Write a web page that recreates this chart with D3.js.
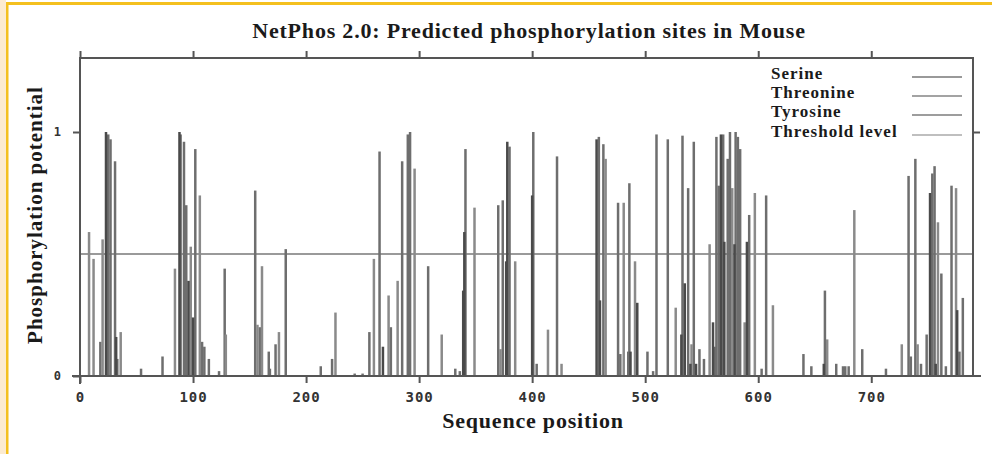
<!DOCTYPE html>
<html>
<head>
<meta charset="utf-8">
<script src="https://cdn.jsdelivr.net/npm/d3@7"></script>
<style>
  html, body { margin: 0; padding: 0; background: #fff; }
  svg { display: block; }
</style>
</head>
<body>
<svg id="chart" width="992" height="454"></svg>
<script>
// NetPhos 2.0 – sites prédits (position, potentiel)
const serine = [
  [18, 0.14], [25, 0.99], [27, 0.97], [31, 0.88], [33, 0.07], [54, 0.03], [73, 0.08],
  [89, 0.99], [92, 0.96], [94, 0.70], [102, 0.93], [108, 0.14], [110, 0.12], [114, 0.07],
  [123, 0.02], [128, 0.44], [155, 0.76], [159, 0.20], [167, 0.10], [168, 0.03], [173, 0.13],
  [182, 0.52], [213, 0.04], [223, 0.07], [243, 0.01], [250, 0.01], [256, 0.18], [265, 0.92],
  [275, 0.20], [285, 0.88], [290, 0.99], [292, 1.0], [308, 0.45], [332, 0.03], [336, 0.02],
  [341, 0.93], [370, 0.70], [374, 0.72], [380, 0.94], [401, 1.0], [404, 0.05], [422, 0.90],
  [459, 0.98], [463, 0.95], [476, 0.71], [478, 0.09], [485, 0.10], [486, 0.79], [502, 0.10],
  [507, 0.02], [510, 0.99], [520, 0.97], [533, 0.985], [538, 0.77], [543, 0.96], [548, 0.11],
  [552, 0.07], [562, 0.12], [563, 0.98], [565, 0.78], [569, 0.99], [573, 0.89], [575, 1.0],
  [580, 1.0], [582, 0.98], [584, 0.93], [592, 0.66], [603, 0.03], [607, 0.74], [640, 0.09],
  [647, 0.04], [659, 0.35], [669, 0.05], [675, 0.04], [677, 0.04], [680, 0.04], [692, 0.11],
  [713, 0.03], [733, 0.82], [735, 0.08], [739, 0.89], [744, 0.05], [749, 0.17], [754, 0.83],
  [756, 0.86], [762, 0.42], [766, 0.04], [771, 0.78], [778, 0.10], [781, 0.32]
];
const threonine = [
  [8, 0.59], [12, 0.48], [20, 0.56], [36, 0.18], [84, 0.44], [98, 0.53], [106, 0.74],
  [129, 0.17], [157, 0.21], [161, 0.45], [176, 0.18], [226, 0.26], [260, 0.48], [273, 0.33],
  [281, 0.39], [296, 0.85], [320, 0.17], [349, 0.69], [372, 0.11], [385, 0.47], [414, 0.19],
  [426, 0.05], [465, 0.89], [481, 0.71], [491, 0.47], [527, 0.28], [541, 0.13], [557, 0.54],
  [577, 0.77], [588, 0.22], [597, 0.75], [613, 0.29], [661, 0.15], [685, 0.68], [727, 0.13],
  [741, 0.13], [759, 0.63], [775, 0.77]
];
const tyrosine = [
  [23, 1.0], [32, 0.16], [88, 1.0], [96, 0.39], [100, 0.24], [268, 0.12], [339, 0.35],
  [340, 0.59], [377, 0.47], [378, 0.96], [400, 0.74], [457, 0.97], [460, 0.31], [487, 0.10],
  [493, 0.30], [532, 0.17], [535, 0.38], [540, 0.05], [545, 0.05], [560, 0.22], [567, 0.99],
  [570, 0.55], [579, 0.54], [590, 0.55], [658, 0.05], [752, 0.75], [757, 0.05], [776, 0.27]
];
const seqLength = 790;
const threshold = 0.5;
const xTicks = [0, 100, 200, 300, 400, 500, 600, 700];
const yTicks = [0, 1];
const legendLabels = ['Serine', 'Threonine', 'Tyrosine', 'Threshold level'];

// ─────────────────────────────────────────────
// Mise en page
// ─────────────────────────────────────────────
const svg = d3.select('#chart');
const L = 80, R = 973, T = 58, B = 376;
const x = d3.scaleLinear().domain([0, seqLength]).range([L, R]);
const y = d3.scaleLinear().domain([0, 1.3]).range([B, T + 0.8]);

const frame  = '#555';
const serif  = '"Liberation Serif", "DejaVu Serif", serif';
const mono   = '"DejaVu Sans Mono", "Liberation Mono", monospace';

// cadre jaune de la capture
svg.append('rect').attr('x', 0).attr('y', 0).attr('width', 6).attr('height', 454).attr('fill', '#fcebd0');
svg.append('rect').attr('x', 6).attr('y', 2).attr('width', 986).attr('height', 3).attr('fill', '#f4c01f');
svg.append('rect').attr('x', 6).attr('y', 2).attr('width', 2.5).attr('height', 452).attr('fill', '#f4c01f');

// titre
svg.append('text')
  .attr('x', 529).attr('y', 38)
  .attr('text-anchor', 'middle')
  .attr('font-family', serif).attr('font-weight', 'bold').attr('font-size', 22)
  .attr('letter-spacing', 0.8)
  .attr('fill', '#1a1a1a')
  .text('NetPhos 2.0: Predicted phosphorylation sites in Mouse');

// seuil
svg.append('line')
  .attr('x1', x(0)).attr('x2', x(seqLength))
  .attr('y1', y(threshold)).attr('y2', y(threshold))
  .attr('stroke', '#9a9a9a').attr('stroke-width', 2);

// barres
const series = [
  { data: serine,    color: '#6e6e6e' },
  { data: threonine, color: '#8a8a8a' },
  { data: tyrosine,  color: '#4a4a4a' }
];
series.forEach(s => {
  svg.append('g').selectAll('line')
    .data(s.data)
    .enter().append('line')
    .attr('x1', d => x(d[0])).attr('x2', d => x(d[0]))
    .attr('y1', y(0)).attr('y2', d => y(d[1]))
    .attr('stroke', s.color)
    .attr('stroke-width', 2.5);
});

// axes
const gBottom = svg.append('g').attr('transform', `translate(0,${B})`)
  .call(d3.axisBottom(x).tickValues(xTicks).tickSize(7).tickSizeOuter(0).tickPadding(9));
const gTop = svg.append('g').attr('transform', `translate(0,${T})`)
  .call(d3.axisTop(x).tickValues(xTicks).tickSize(7).tickSizeOuter(0).tickFormat(''));
const gLeft = svg.append('g').attr('transform', `translate(${L},0)`)
  .call(d3.axisLeft(y).tickValues(yTicks).tickSize(7).tickSizeOuter(0).tickPadding(12)
    .tickFormat(d3.format('d')));
const gRight = svg.append('g').attr('transform', `translate(${R},0)`)
  .call(d3.axisRight(y).tickValues([1]).tickSize(7).tickSizeOuter(0).tickFormat(''));

[gBottom, gTop, gLeft, gRight].forEach(g => {
  g.select('.domain').remove();
  g.selectAll('.tick line').attr('stroke', frame).attr('stroke-width', 2);
  g.selectAll('.tick text')
    .attr('font-family', mono).attr('fill', '#333');
});
gBottom.selectAll('.tick text').attr('font-size', 14).attr('font-weight', 'bold').attr('letter-spacing', 1);
gLeft.selectAll('.tick text').attr('font-size', 12).attr('font-weight', 'bold');

// cadre du graphique
const frameLines = [
  [L - 7, B, R + 7, B],
  [L, T, R, T],
  [L, T, L, B + 7],
  [R, T, R, B]
];
svg.append('g').selectAll('line')
  .data(frameLines)
  .enter().append('line')
  .attr('x1', d => d[0]).attr('y1', d => d[1])
  .attr('x2', d => d[2]).attr('y2', d => d[3])
  .attr('stroke', frame).attr('stroke-width', 2)
  .attr('stroke-linecap', 'square');

// titres des axes
svg.append('text')
  .attr('x', 533).attr('y', 428)
  .attr('text-anchor', 'middle')
  .attr('font-family', serif).attr('font-weight', 'bold').attr('font-size', 22)
  .attr('letter-spacing', 0.8)
  .attr('fill', '#1a1a1a')
  .text('Sequence position');

svg.append('text')
  .attr('transform', 'translate(42,215) rotate(-90)')
  .attr('text-anchor', 'middle')
  .attr('font-family', serif).attr('font-weight', 'bold').attr('font-size', 21)
  .attr('letter-spacing', 1)
  .attr('fill', '#1a1a1a')
  .text('Phosphorylation potential');

// légende
const legColors = ['#777', '#858585', '#7d7d7d', '#aaa'];
const legBase = [79, 98, 117, 137];
const leg = svg.append('g');
legendLabels.forEach((lab, i) => {
  leg.append('text')
    .attr('x', 771).attr('y', legBase[i])
    .attr('font-family', serif).attr('font-weight', 'bold').attr('font-size', 17)
    .attr('letter-spacing', 1)
    .attr('fill', '#1a1a1a')
    .text(lab);
  leg.append('line')
    .attr('x1', 912).attr('x2', 962)
    .attr('y1', legBase[i] - 2).attr('y2', legBase[i] - 2)
    .attr('stroke', legColors[i]).attr('stroke-width', 1.6);
});
</script>
</body>
</html>
